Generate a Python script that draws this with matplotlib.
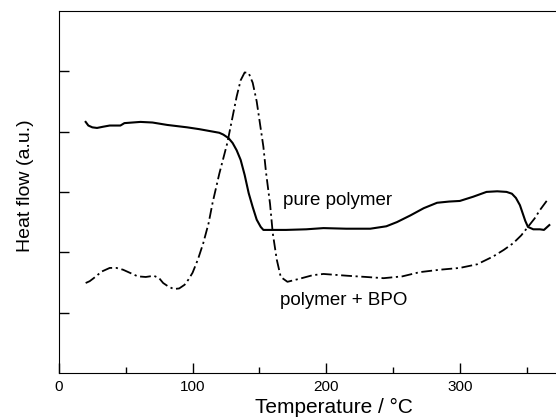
import matplotlib
matplotlib.use('Agg')
import matplotlib.pyplot as plt
from matplotlib.ticker import MultipleLocator

plt.rcParams['font.family'] = ['Liberation Sans', 'DejaVu Sans']

# pure polymer (solid line)
temp_pure = [20, 22, 25, 28.5, 33, 38, 46, 49, 55, 61, 70, 81, 96, 105, 115, 120, 123, 127,
             130, 133, 136, 139, 142, 145, 148, 151, 153, 160, 170, 185, 198, 215, 233, 245,
             253, 263, 273, 283, 292, 300, 310, 320, 328, 335, 339, 342, 345, 347, 349, 351,
             355, 360, 363, 367]
heat_pure = [4.16, 4.10, 4.07, 4.06, 4.08, 4.10, 4.10, 4.14, 4.15, 4.16, 4.15, 4.11, 4.07,
             4.04, 4.00, 3.98, 3.95, 3.89, 3.81, 3.69, 3.53, 3.28, 2.98, 2.75, 2.54, 2.42,
             2.37, 2.37, 2.37, 2.38, 2.40, 2.39, 2.39, 2.43, 2.50, 2.61, 2.73, 2.82, 2.84,
             2.85, 2.92, 3.00, 3.01, 3.00, 2.97, 2.90, 2.78, 2.65, 2.52, 2.42, 2.38, 2.38,
             2.37, 2.45]

# polymer + BPO (dash-dot line)
temp_bpo = [20, 23, 26, 32, 38, 43, 48, 54, 59, 65, 71, 75, 78, 82, 86, 90, 94, 97, 100,
            104, 108, 112, 115, 120, 126, 130, 133, 136, 139, 142, 145, 148, 150, 153, 155,
            158, 160, 163, 166, 171, 180, 190, 198, 216, 230, 243, 257, 270, 285, 300, 313,
            325, 333, 340, 346, 351, 356, 360, 366]
heat_bpo = [1.49, 1.52, 1.57, 1.68, 1.74, 1.74, 1.71, 1.65, 1.60, 1.59, 1.61, 1.57, 1.49,
            1.43, 1.39, 1.40, 1.46, 1.55, 1.66, 1.88, 2.15, 2.48, 2.82, 3.30, 3.81, 4.25,
            4.58, 4.85, 4.98, 4.97, 4.81, 4.50, 4.20, 3.75, 3.32, 2.80, 2.32, 1.88, 1.59,
            1.51, 1.56, 1.62, 1.64, 1.61, 1.59, 1.57, 1.60, 1.67, 1.71, 1.74, 1.80, 1.93,
            2.04, 2.15, 2.28, 2.42, 2.56, 2.70, 2.88]

fig = plt.figure(figsize=(5.56, 4.19), dpi=100)
ax = fig.add_axes([0.106, 0.110, 0.894, 0.864])

ax.plot(temp_pure, heat_pure, color='black', lw=1.5)
ax.plot(temp_bpo, heat_bpo, color='black', lw=1.3, linestyle=(0, (6, 2, 1.2, 2)))

ax.text(168, 2.79, 'pure polymer', fontsize=13.5, va='baseline', ha='left')
ax.text(165.5, 1.13, 'polymer + BPO', fontsize=13.5, va='baseline', ha='left')

ax.set_xlim(0, 372)
ax.set_ylim(0, 6)
ax.xaxis.set_major_locator(MultipleLocator(100))
ax.xaxis.set_minor_locator(MultipleLocator(50))
ax.set_yticks([1, 2, 3, 4, 5])
ax.set_yticklabels([])
ax.tick_params(axis='both', which='major', direction='in', length=7, width=1, labelsize=11)
ax.tick_params(axis='x', which='minor', direction='in', length=4, width=1)
ax.tick_params(axis='x', pad=5)
ax.spines['right'].set_visible(False)

ax.set_xlabel('Temperature / °C', fontsize=15)
ax.set_ylabel('Heat flow (a.u.)', fontsize=14)
ax.xaxis.set_label_coords(0.553, -0.069)
ax.yaxis.set_label_coords(-0.05, 0.517)

fig.savefig('out.png', dpi=100)
